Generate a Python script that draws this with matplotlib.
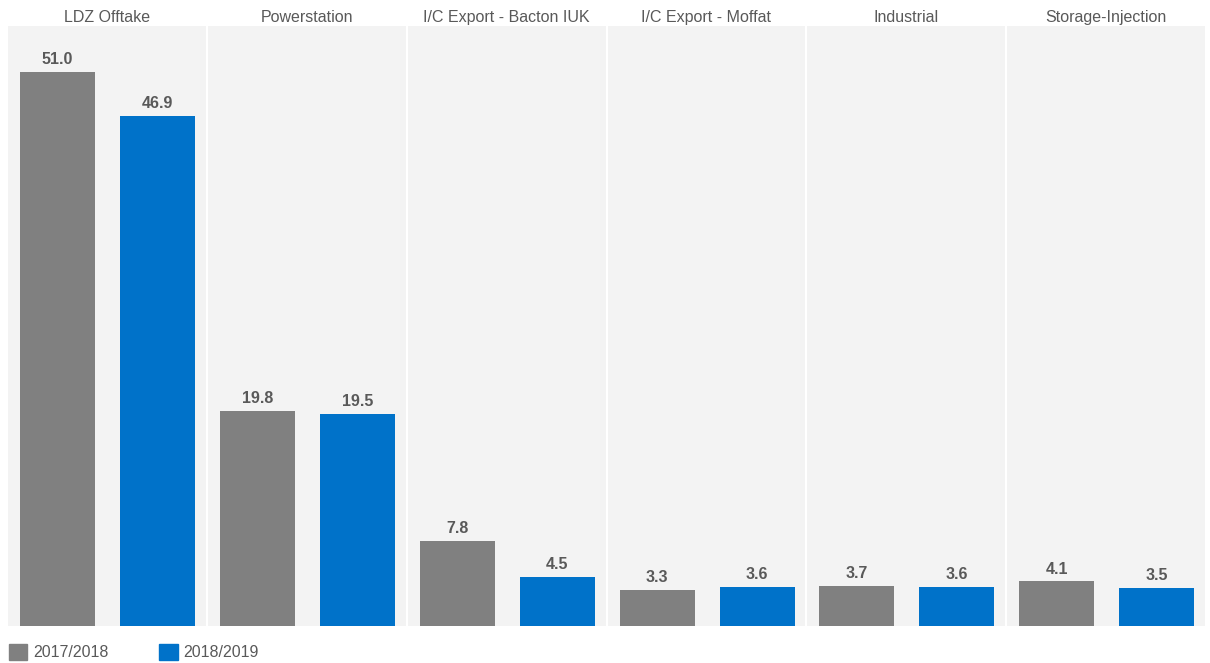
import matplotlib
matplotlib.use("Agg")
import matplotlib.pyplot as plt
from matplotlib.patches import Patch

plt.rcParams['font.family'] = ['Liberation Sans', 'DejaVu Sans']

categories = ['LDZ Offtake', 'Powerstation', 'I/C Export - Bacton IUK',
              'I/C Export - Moffat', 'Industrial', 'Storage-Injection']
seasons = ['2017/2018', '2018/2019']
vals_1718 = [51.0, 19.8, 7.8, 3.3, 3.7, 4.1]
vals_1819 = [46.9, 19.5, 4.5, 3.6, 3.6, 3.5]

colors = ['#808080', '#0072C9']
txt = '#595959'
panel_bg = '#F3F3F3'

W, H = 1210, 663
fig = plt.figure(figsize=(W / 100, H / 100), dpi=100)

# one small-multiple axes per category, laid out in pixels
left, right, bottom, top = 8, 1205, 37, 637
gap = 2
pw = (right - left - gap * (len(categories) - 1)) / len(categories)

for k, cat in enumerate(categories):
    x0 = left + k * (pw + gap)
    ax = fig.add_axes([x0 / W, bottom / H, pw / W, (top - bottom) / H])
    ax.set_facecolor(panel_bg)
    vals = [vals_1718[k], vals_1819[k]]
    bars = ax.bar([0, 1], vals, width=0.75, color=colors)
    for b, v in zip(bars, vals):
        ax.annotate(f'{v:.1f}', (b.get_x() + b.get_width() / 2, v),
                    xytext=(0, 3.5), textcoords='offset points',
                    ha='center', va='bottom', fontsize=11.5,
                    fontweight='bold', color=txt)
    ax.set_xlim(-0.495, -0.495 + pw / 100)
    ax.set_ylim(0, 55.2)
    ax.set_title(cat, fontsize=11.5, color=txt, pad=3)
    ax.set_xticks([])
    ax.set_yticks([])
    for s in ax.spines.values():
        s.set_visible(False)

handles = [Patch(color=c, label=l) for c, l in zip(colors, seasons)]
fig.legend(handles=handles, loc='lower left', bbox_to_anchor=(9 / W, 3 / H),
           ncol=2, frameon=False, fontsize=11.5, labelcolor=txt,
           handlelength=1.15, handleheight=1.15, handletextpad=0.35,
           columnspacing=3.2, borderpad=0, borderaxespad=0)

fig.savefig('out.png', dpi=100, facecolor='white')
